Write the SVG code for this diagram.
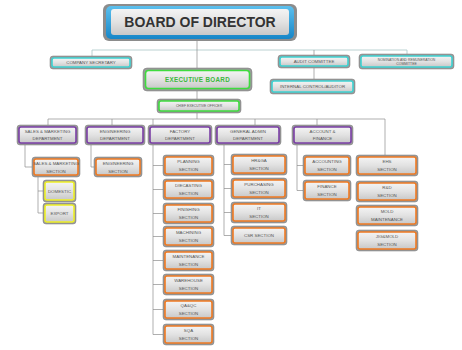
<svg xmlns="http://www.w3.org/2000/svg" width="462" height="350" viewBox="0 0 462 350">
<defs>
<linearGradient id="g" x1="0" y1="0" x2="0" y2="1">
<stop offset="0" stop-color="#f4f4f4"/>
<stop offset="0.5" stop-color="#e2e2e2"/>
<stop offset="1" stop-color="#c8c8c8"/>
</linearGradient>
<linearGradient id="gb" x1="0" y1="0" x2="0" y2="1">
<stop offset="0" stop-color="#5cc0ee"/>
<stop offset="1" stop-color="#1686c8"/>
</linearGradient>
</defs>
<style>
.fr{fill:#9a9a9a;stroke:#7a7a7a;stroke-width:0.5}
.in{fill:url(#g);stroke-width:1.6}
.or{stroke:#f07a22}
.pu{stroke:#7b3fa6}
.gr{stroke:#3fdc3f}
.cy{stroke:#3ed2d2}
.ye{stroke:#eef026}
.t{font-family:"Liberation Sans",Arial,sans-serif;font-size:4.4px;fill:#555;text-anchor:middle}
.ts{font-size:3.4px}
.ln{fill:none;stroke:#8c8c8c;stroke-width:0.7}
.lt{fill:none;stroke:#a9c6c6;stroke-width:0.8}
</style>
<rect width="462" height="350" fill="#ffffff"/>
<g id="connectors">
<path class="lt" d="M92,56 V50 H407 V54"/>
<path class="ln" d="M197,41 V68 M197,91 V99 M197,113 V119 M314,50 V55 M314,68 V79"/>
<path class="ln" d="M48,125 V119 H385 V155 M112,119 V125 M153,119 V125 M255,119 V125 M317,119 V125"/>
<path class="ln" d="M25,145 V167 H32 M91,145 V167 H94 M38,177 V213 H43 M38,191 H43"/>
<path class="ln" d="M153,145 V334.5 M153,165.5 H163 M153,189.5 H163 M153,213.5 H163 M153,236.5 H163 M153,260.5 H163 M153,284.5 H163 M153,309.5 H163 M153,334.5 H163"/>
<path class="ln" d="M224,145 V235.5 M224,164.5 H231 M224,188.5 H231 M224,212.5 H231 M224,235.5 H231"/>
<path class="ln" d="M297,145 V190.5 M297,165.5 H303 M297,190.5 H303"/>
</g>
<g id="board">
<rect x="103" y="4" width="194" height="37" rx="6" fill="#8c8c8c"/>
<rect x="106" y="6" width="188" height="33" rx="5" fill="url(#gb)"/>
<rect x="111" y="9" width="178" height="26" rx="3" fill="url(#g)"/>
<text x="200" y="27" font-family="Liberation Sans,Arial,sans-serif" font-size="14" font-weight="bold" fill="#333" text-anchor="middle">BOARD OF DIRECTOR</text>
</g>
<g id="company-secretary"><rect class="fr" x="50" y="56" width="82" height="13" rx="3"/><rect class="in cy" x="52" y="58" width="78" height="9" rx="2"/><text class="t" x="91" y="64.3">COMPANY  SECRETARY</text></g>
<g id="audit-committee"><rect class="fr" x="278" y="55" width="72" height="13" rx="3"/><rect class="in cy" x="280" y="57" width="68" height="9" rx="2"/><text class="t" x="314" y="63.3">AUDIT COMMITTEE</text></g>
<g id="nomination"><rect class="fr" x="359" y="54" width="95" height="15" rx="3"/><rect class="in cy" x="361" y="56" width="91" height="11" rx="2"/><text class="t ts" x="406.5" y="60.5">NOMINATION AND REMUNERATION</text><text class="t ts" x="406.5" y="65">COMMITTEE</text></g>
<g id="internal-control"><rect class="fr" x="270" y="79" width="85" height="15" rx="3"/><rect class="in cy" x="272" y="81" width="81" height="11" rx="2"/><text class="t" x="312.5" y="88">INTERNAL CONTROL/AUDITOR</text></g>
<g id="executive-board"><rect class="fr" x="143" y="68" width="109" height="23" rx="4"/><rect class="in gr" x="145.5" y="70.5" width="104" height="18" rx="3" stroke-width="2.2"/><text x="197.5" y="81.8" font-family="Liberation Sans,Arial,sans-serif" font-size="6.3" font-weight="bold" fill="#3cb83c" text-anchor="middle" letter-spacing="0.3">EXECUTIVE BOARD</text></g>
<g id="ceo"><rect class="fr" x="157" y="99" width="84" height="14" rx="3"/><rect class="in gr" x="159" y="101" width="80" height="10" rx="2"/><text class="t ts" x="199" y="107.3">CHIEF EXECUTIVE OFFICER</text></g>
<g id="dept-sales"><rect class="fr" x="17" y="125" width="61" height="20" rx="3"/><rect class="in pu" x="19" y="127" width="57" height="16" rx="2"/><text class="t" x="47.5" y="132.7">SALES &amp; MARKETING</text><text class="t" x="47.5" y="140.3">DEPARTMENT</text></g>
<g id="dept-engineering"><rect class="fr" x="85" y="125" width="60" height="20" rx="3"/><rect class="in pu" x="87" y="127" width="56" height="16" rx="2"/><text class="t" x="115" y="132.7">ENGINEERING</text><text class="t" x="115" y="140.3">DEPARTMENT</text></g>
<g id="dept-factory"><rect class="fr" x="148" y="125" width="64" height="20" rx="3"/><rect class="in pu" x="150" y="127" width="60" height="16" rx="2"/><text class="t" x="180" y="132.7">FACTORY</text><text class="t" x="180" y="140.3">DEPARTMENT</text></g>
<g id="dept-admin"><rect class="fr" x="215" y="125" width="66" height="20" rx="3"/><rect class="in pu" x="217" y="127" width="62" height="16" rx="2"/><text class="t" x="248" y="132.7">GENERAL ADMIN</text><text class="t" x="248" y="140.3">DEPARTMENT</text></g>
<g id="dept-account"><rect class="fr" x="292" y="125" width="61" height="20" rx="3"/><rect class="in pu" x="294" y="127" width="57" height="16" rx="2"/><text class="t" x="322.5" y="132.7">ACCOUNT &amp;</text><text class="t" x="322.5" y="140.3">FINANCE</text></g>
<g id="sec-sales"><rect class="fr" x="32" y="157" width="48" height="20" rx="3"/><rect class="in or" x="34" y="159" width="44" height="16" rx="2"/><text class="t" x="56" y="164.8">SALES &amp; MARKETING</text><text class="t" x="56" y="172.5">SECTION</text></g>
<g id="domestic"><rect class="fr" x="43" y="180" width="33" height="22" rx="3"/><rect class="in ye" x="45" y="182" width="29" height="18" rx="2"/><text class="t" x="59.5" y="192.5">DOMESTIC</text></g>
<g id="export"><rect class="fr" x="43" y="203" width="33" height="21" rx="3"/><rect class="in ye" x="45" y="205" width="29" height="17" rx="2"/><text class="t" x="59.5" y="215">EXPORT</text></g>
<g id="sec-engineering"><rect class="fr" x="94" y="157" width="48" height="20" rx="3"/><rect class="in or" x="96" y="159" width="44" height="16" rx="2"/><text class="t" x="118" y="164.8">ENGINEERING</text><text class="t" x="118" y="172.5">SECTION</text></g>
<g id="sec-planning"><rect class="fr" x="163" y="155" width="51" height="21" rx="3"/><rect class="in or" x="165" y="157" width="47" height="17" rx="2"/><text class="t" x="188.5" y="163">PLANNING</text><text class="t" x="188.5" y="171">SECTION</text></g>
<g id="sec-diecasting"><rect class="fr" x="163" y="179" width="51" height="21" rx="3"/><rect class="in or" x="165" y="181" width="47" height="17" rx="2"/><text class="t" x="188.5" y="187">DIECASTING</text><text class="t" x="188.5" y="195">SECTION</text></g>
<g id="sec-finishing"><rect class="fr" x="163" y="203" width="51" height="21" rx="3"/><rect class="in or" x="165" y="205" width="47" height="17" rx="2"/><text class="t" x="188.5" y="211">FINISHING</text><text class="t" x="188.5" y="219">SECTION</text></g>
<g id="sec-machining"><rect class="fr" x="163" y="226" width="51" height="21" rx="3"/><rect class="in or" x="165" y="228" width="47" height="17" rx="2"/><text class="t" x="188.5" y="234">MACHINING</text><text class="t" x="188.5" y="242">SECTION</text></g>
<g id="sec-maintenance"><rect class="fr" x="163" y="250" width="51" height="21" rx="3"/><rect class="in or" x="165" y="252" width="47" height="17" rx="2"/><text class="t" x="188.5" y="258">MAINTENANCE</text><text class="t" x="188.5" y="266">SECTION</text></g>
<g id="sec-warehouse"><rect class="fr" x="163" y="274" width="51" height="21" rx="3"/><rect class="in or" x="165" y="276" width="47" height="17" rx="2"/><text class="t" x="188.5" y="282">WAREHOUSE</text><text class="t" x="188.5" y="290">SECTION</text></g>
<g id="sec-qaqc"><rect class="fr" x="163" y="299" width="51" height="21" rx="3"/><rect class="in or" x="165" y="301" width="47" height="17" rx="2"/><text class="t" x="188.5" y="307">QA&amp;QC</text><text class="t" x="188.5" y="315">SECTION</text></g>
<g id="sec-sqa"><rect class="fr" x="163" y="324" width="51" height="21" rx="3"/><rect class="in or" x="165" y="326" width="47" height="17" rx="2"/><text class="t" x="188.5" y="332">SQA</text><text class="t" x="188.5" y="340">SECTION</text></g>
<g id="sec-hrga"><rect class="fr" x="231" y="154" width="56" height="21" rx="3"/><rect class="in or" x="233" y="156" width="52" height="17" rx="2"/><text class="t" x="259" y="162">HR&amp;GA</text><text class="t" x="259" y="170">SECTION</text></g>
<g id="sec-purchasing"><rect class="fr" x="231" y="178" width="56" height="21" rx="3"/><rect class="in or" x="233" y="180" width="52" height="17" rx="2"/><text class="t" x="259" y="186">PURCHASING</text><text class="t" x="259" y="194">SECTION</text></g>
<g id="sec-it"><rect class="fr" x="231" y="202" width="56" height="21" rx="3"/><rect class="in or" x="233" y="204" width="52" height="17" rx="2"/><text class="t" x="259" y="210">IT</text><text class="t" x="259" y="218">SECTION</text></g>
<g id="sec-csr"><rect class="fr" x="231" y="226" width="56" height="19" rx="3"/><rect class="in or" x="233" y="228" width="52" height="15" rx="2"/><text class="t" x="259" y="237">CSR SECTION</text></g>
<g id="sec-accounting"><rect class="fr" x="303" y="155" width="48" height="21" rx="3"/><rect class="in or" x="305" y="157" width="44" height="17" rx="2"/><text class="t" x="327" y="163">ACCOUNTING</text><text class="t" x="327" y="171">SECTION</text></g>
<g id="sec-finance"><rect class="fr" x="303" y="180" width="48" height="21" rx="3"/><rect class="in or" x="305" y="182" width="44" height="17" rx="2"/><text class="t" x="327" y="188">FINANCE</text><text class="t" x="327" y="196">SECTION</text></g>
<g id="sec-ehs"><rect class="fr" x="356" y="155" width="62" height="21" rx="3"/><rect class="in or" x="358" y="157" width="58" height="17" rx="2"/><text class="t" x="387" y="163">EHS</text><text class="t" x="387" y="171">SECTION</text></g>
<g id="sec-rnd"><rect class="fr" x="356" y="181" width="62" height="21" rx="3"/><rect class="in or" x="358" y="183" width="58" height="17" rx="2"/><text class="t" x="387" y="189">R&amp;D</text><text class="t" x="387" y="197">SECTION</text></g>
<g id="sec-mold"><rect class="fr" x="356" y="205" width="62" height="21" rx="3"/><rect class="in or" x="358" y="207" width="58" height="17" rx="2"/><text class="t" x="387" y="213">MOLD</text><text class="t" x="387" y="221">MAINTENANCE</text></g>
<g id="sec-jigmold"><rect class="fr" x="356" y="230" width="62" height="21" rx="3"/><rect class="in or" x="358" y="232" width="58" height="17" rx="2"/><text class="t" x="387" y="238">JIG&amp;MOLD</text><text class="t" x="387" y="246">SECTION</text></g>
</svg>
